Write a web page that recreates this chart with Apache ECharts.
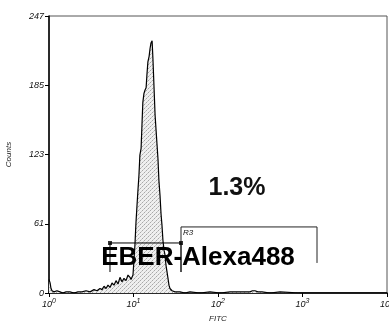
<!DOCTYPE html>
<html><head><meta charset="utf-8">
<script src="https://cdn.jsdelivr.net/npm/echarts@6/dist/echarts.min.js"></script>
<style>html,body{margin:0;padding:0;background:#fff}#c{width:389px;height:322px}</style>
</head><body><div id="c"></div>
<script>
// FITC intensity (log axis) and event counts of the histogram outline
const fitc = [1.00,1.03,1.056,1.085,1.146,1.243,1.35,1.46,1.59,1.77,1.98,2.20,2.46,2.74,3.06,3.41,3.70,4.01,4.24,4.48,4.73,4.99,5.27,5.57,5.88,6.21,6.56,6.92,7.31,7.72,8.15,8.61,9.09,
  9.34,9.86,10.1,10.4,10.7,11.0,11.3,11.6,11.9,12.3,12.6,12.9,13.3,13.7,14.1,14.4,14.8,15.3,15.7,16.1,16.6,17.0,17.5,18.0,18.5,19.0,19.5,20.0,20.6,21.2,21.7,22.3,23.0,23.6,24.2,24.9,25.6,26.3,27.0,28.6,31.0,
  35.5,40.5,46.6,61.2,80.4,106,139,182,239,256,274,297,332,413,542,934,1610,3650,8260,10000];
const counts = [12,9,4,2,1,2,1,0,1,1,0,1,1,2,1,3,2,4,3,6,4,7,5,9,7,11,8,14,10,13,11,16,14,
  12,16,28,43,63,78,92,105,123,129,150,170,178,181,183,194,206,211,218,223,225,208,183,159,145,132,119,100,87,70,61,47,38,34,25,19,13,7,4,2,1,
  1,0,1,0,1,0,1,1,1,2,2,1,1,0,1,0,0,0,0,0];
// y ticks (counts) and x decades
const yTicks = [0, 61, 123, 185, 247];
const yMax = 247;
const xDecades = [0, 1, 2, 3, 4];
// marker gates: [low FITC, high FITC, bar height, end-tick bottom]
const markerUnnamed = {x: [5.27, 36.5], bar: 44.6, low: 18.7};
const markerR3 = {x: [36.5, 1485], bar: 58.9, lowLeft: 18.7, lowRight: 26.8, name: 'R3'};
const pctText = '1.3%';
const mainLabel = 'EBER-Alexa488';

const chart = echarts.init(document.getElementById('c'), null, {renderer: 'canvas'});

// stipple fill pattern
const pat = document.createElement('canvas');
pat.width = 4; pat.height = 4;
const pc = pat.getContext('2d');
pc.fillStyle = '#efefef'; pc.fillRect(0,0,4,4);
pc.fillStyle = '#a8a8a8'; pc.fillRect(0,0,1,1); pc.fillRect(2,2,1,1);
pc.fillStyle = '#c8c8c8'; pc.fillRect(3,1,1,1); pc.fillRect(1,3,1,1);

const histData = fitc.map((v, i) => [v, counts[i]]);
const gate1 = [[markerUnnamed.x[0], markerUnnamed.low], [markerUnnamed.x[0], markerUnnamed.bar], [markerUnnamed.x[1], markerUnnamed.bar], [markerUnnamed.x[1], markerUnnamed.low]];
const gate2 = [[markerR3.x[0], markerR3.lowLeft], [markerR3.x[0], markerR3.bar], [markerR3.x[1], markerR3.bar], [markerR3.x[1], markerR3.lowRight]];

const lblFont = 'Liberation Sans, Arial, sans-serif';
chart.setOption({
  animation: false,
  backgroundColor: '#fff',
  grid: {left: 49, right: 2, top: 16, bottom: 29, show: true, borderColor: '#555', borderWidth: 1,
         containLabel: false, outerBoundsMode: 'none'},
  xAxis: {
    type: 'log', logBase: 10, min: 1, max: 10000,
    name: 'FITC', nameLocation: 'middle', nameGap: 22,
    nameTextStyle: {fontSize: 8, fontStyle: 'italic', color: '#222', fontFamily: lblFont},
    axisLine: {lineStyle: {color: '#000', width: 1.5}},
    axisTick: {show: true, length: 4, lineStyle: {color: '#000'}},
    splitLine: {show: false},
    axisLabel: {
      margin: 5, color: '#111', hideOverlap: false,
      formatter: v => '{b|10}{s|' + Math.round(Math.log10(v)) + '}',
      rich: {
        b: {fontSize: 9, fontStyle: 'italic', fontFamily: lblFont, color: '#111'},
        s: {fontSize: 7, fontStyle: 'italic', fontFamily: lblFont, color: '#111', verticalAlign: 'top', padding: [0,0,5,0]}
      }
    }
  },
  yAxis: {
    type: 'value', min: 0, max: yMax, interval: yMax / 4,
    name: 'Counts', nameLocation: 'middle', nameGap: 36,
    nameTextStyle: {fontSize: 8, fontStyle: 'italic', color: '#222', fontFamily: lblFont},
    axisLine: {show: true, lineStyle: {color: '#000', width: 1.5}},
    axisTick: {show: true, length: 4, lineStyle: {color: '#000'}},
    splitLine: {show: false},
    axisLabel: {
      margin: 5, fontSize: 9, fontStyle: 'italic', color: '#111', fontFamily: lblFont,
      formatter: v => { const i = Math.round(v / (yMax / 4)); return String(yTicks[i]); }
    }
  },
  series: [
    {type: 'line', data: histData, symbol: 'none', smooth: false,
     lineStyle: {color: '#000', width: 1.2},
     areaStyle: {color: {image: pat, repeat: 'repeat'}, opacity: 1}, z: 2},
    {type: 'line', data: gate1, symbol: 'none', lineStyle: {color: '#000', width: 1}, z: 3},
    {type: 'scatter', data: [gate1[1], gate1[2]], symbol: 'rect', symbolSize: 4, itemStyle: {color: '#000'}, z: 3},
    {type: 'line', data: gate2, symbol: 'none', lineStyle: {color: '#222', width: 1}, z: 3}
  ]
});

const pR3 = chart.convertToPixel({xAxisIndex: 0, yAxisIndex: 0}, [markerR3.x[0], markerR3.bar]);
chart.setOption({
  graphic: [
    {type: 'text', left: pR3[0] + 2, top: pR3[1] + 2, z: 10,
     style: {text: markerR3.name, font: 'italic 8px ' + lblFont, fill: '#111'}},
    {type: 'text', x: 237, y: 188, z: 10,
     style: {text: pctText, font: 'bold 25px ' + lblFont, fill: '#111', align: 'center', verticalAlign: 'middle'}},
    {type: 'text', x: 198, y: 258, z: 10,
     style: {text: mainLabel, font: 'bold 26px ' + lblFont, fill: '#000', align: 'center', verticalAlign: 'middle'}}
  ]
});
</script></body></html>
